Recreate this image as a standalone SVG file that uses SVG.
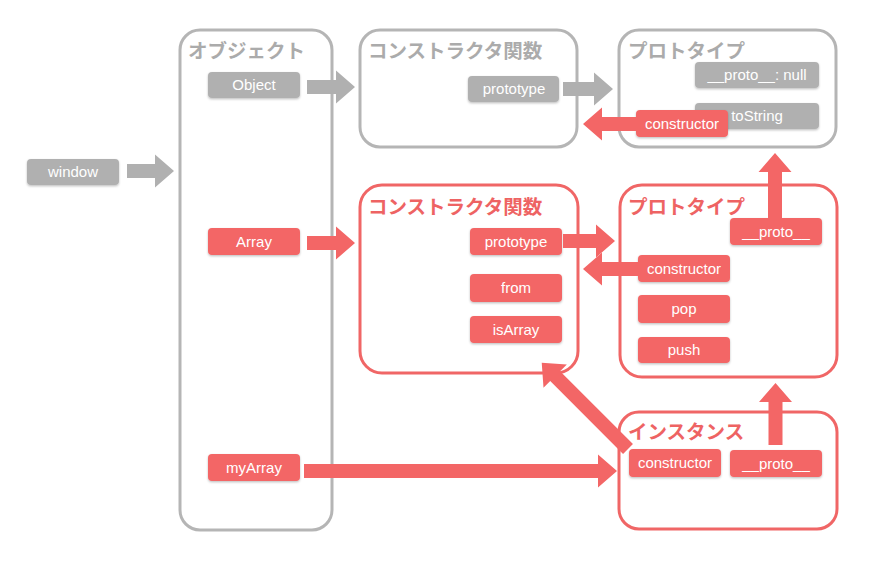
<svg xmlns="http://www.w3.org/2000/svg" width="876" height="562" viewBox="0 0 876 562">
<defs>
<filter id="sh" x="-10%" y="-20%" width="120%" height="150%">
<feDropShadow dx="0" dy="1.2" stdDeviation="0.8" flood-color="#000" flood-opacity="0.25"/>
</filter>
<style>
.cg{fill:#fff;stroke:#b5b5b5;stroke-width:3}
.cr{fill:#fff;stroke:#f06666;stroke-width:3}
.tg{font-family:"Noto Sans CJK JP","Noto Sans",sans-serif;font-weight:bold;font-size:19.5px;fill:#ababab}
.tr{font-family:"Noto Sans CJK JP","Noto Sans",sans-serif;font-weight:bold;font-size:19.5px;fill:#ee6363}
.bg{fill:#b0b0b0;filter:url(#sh)}
.br{fill:#f36666;filter:url(#sh)}
.lb{font-family:"Liberation Sans",Arial,sans-serif;font-size:15px;fill:#fff;text-anchor:middle}
.ag{fill:#b0b0b0}
.ar{fill:#f36666}
</style>
</defs>
<rect width="876" height="562" fill="#fff"/>

<g id="window">
<rect class="bg" x="27" y="159" width="92" height="26" rx="4"/>
<text class="lb" x="73" y="177">window</text>
</g>

<g id="objects">
<rect class="cg" x="180" y="30" width="152" height="500" rx="20"/>
<text class="tg" x="188" y="58">オブジェクト</text>
<g id="Object">
<rect class="bg" x="208" y="72" width="92" height="26" rx="4"/>
<text class="lb" x="254" y="90">Object</text>
</g>
<g id="Array">
<rect class="br" x="208" y="228" width="92" height="27" rx="4"/>
<text class="lb" x="254" y="247">Array</text>
</g>
<g id="myArray">
<rect class="br" x="208" y="454" width="92" height="27" rx="4"/>
<text class="lb" x="254" y="473">myArray</text>
</g>
</g>

<g id="objectCtor">
<rect class="cg" x="360" y="30" width="217" height="117" rx="20"/>
<text class="tg" x="368" y="58">コンストラクタ関数</text>
<rect class="bg" x="468" y="76" width="91" height="26" rx="4"/>
<text class="lb" x="514" y="94">prototype</text>
</g>

<g id="objectProto">
<rect class="cg" x="619" y="30" width="217" height="117" rx="20"/>
<text class="tg" x="628" y="58">プロトタイプ</text>
<rect class="bg" x="695" y="62" width="124" height="26" rx="4"/>
<text class="lb" x="757" y="80">__proto__: null</text>
<rect class="bg" x="695" y="103" width="124" height="26" rx="4"/>
<text class="lb" x="757" y="121">toString</text>
<rect class="br" x="636" y="110" width="92" height="27" rx="4"/>
<text class="lb" x="682" y="129">constructor</text>
</g>

<g id="arrayCtor">
<rect class="cr" x="360" y="185" width="218" height="188" rx="22"/>
<text class="tr" x="368" y="214">コンストラクタ関数</text>
<rect class="br" x="470" y="228" width="92" height="27" rx="4"/>
<text class="lb" x="516" y="247">prototype</text>
<rect class="br" x="470" y="274" width="92" height="28" rx="4"/>
<text class="lb" x="516" y="293">from</text>
<rect class="br" x="470" y="316" width="92" height="27" rx="4"/>
<text class="lb" x="516" y="335">isArray</text>
</g>

<g id="arrayProto">
<rect class="cr" x="620" y="185" width="217" height="192" rx="22"/>
<text class="tr" x="628" y="214">プロトタイプ</text>
<rect class="br" x="730" y="218" width="92" height="27" rx="4"/>
<text class="lb" x="776" y="237">__proto__</text>
<rect class="br" x="638" y="255" width="92" height="27" rx="4"/>
<text class="lb" x="684" y="274">constructor</text>
<rect class="br" x="638" y="295" width="92" height="28" rx="4"/>
<text class="lb" x="684" y="314">pop</text>
<rect class="br" x="638" y="337" width="92" height="26" rx="4"/>
<text class="lb" x="684" y="355">push</text>
</g>

<g id="instance">
<rect class="cr" x="619" y="412" width="218" height="117" rx="20"/>
<text class="tr" x="628" y="439">インスタンス</text>
<rect class="br" x="629" y="449" width="92" height="28" rx="4"/>
<text class="lb" x="675" y="468">constructor</text>
<rect class="br" x="730" y="450" width="92" height="27" rx="4"/>
<text class="lb" x="776" y="469">__proto__</text>
</g>

<g id="connectors">
<polygon class="ag" points="127,164 155,164 155,154.5 174,171 155,187.5 155,178 127,178"/>
<polygon class="ag" points="307,80 336,80 336,70.5 355,87 336,103.5 336,94 307,94"/>
<polygon class="ag" points="563,82 594,82 594,72.5 613,89 594,105.5 594,96 563,96"/>
<polygon class="ar" points="636,117 602,117 602,107.5 583,124 602,140.5 602,131 636,131"/>
<polygon class="ar" points="768,218 768,172 758.5,172 775,153 791.5,172 782,172 782,218"/>
<polygon class="ar" points="307,236 336,236 336,226.5 355,243 336,259.5 336,250 307,250"/>
<polygon class="ar" points="563,234 596,234 596,224.5 615,241 596,257.5 596,248 563,248"/>
<polygon class="ar" points="638,262 602,262 602,252.5 583,269 602,285.5 602,276 638,276"/>
<polygon class="ar" points="304,464 598,464 598,454.5 617,471 598,487.5 598,478 304,478"/>
<polygon class="ar" points="768.5,445 768.5,402 759,402 775.5,383 792,402 782.5,402 782.5,445"/>
<polygon class="ar" points="0,-7 103,-7 103,-16.5 122,0 103,16.5 103,7 0,7" transform="translate(628,449) rotate(225)"/>
</g>
</svg>
